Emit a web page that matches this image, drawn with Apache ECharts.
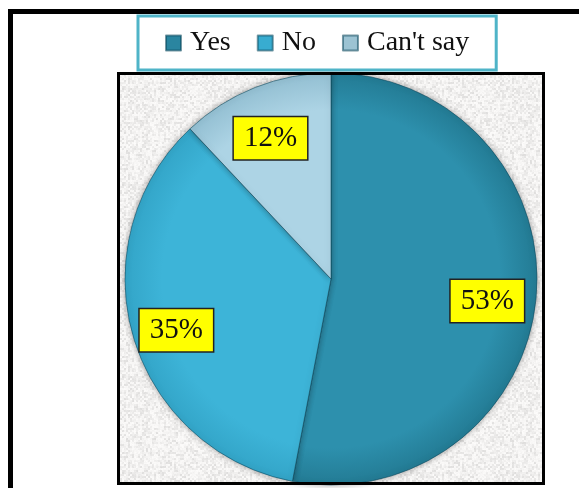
<!DOCTYPE html>
<html>
<head>
<meta charset="utf-8">
<script src="https://cdn.jsdelivr.net/npm/echarts@6/dist/echarts.min.js"></script>
<style>
html,body{margin:0;padding:0;background:#fff;}
#chart{width:579px;height:488px;}
</style>
</head>
<body>
<div id="chart"></div>
<script>
const categories = ['Yes', 'No', "Can't say"];
const values = [53, 35, 12];

const sliceInner = ['#2d90ad', '#3db4d8', '#add4e5'];
const sliceOuter = ['#237b94', '#33a5c8', '#93bfd2'];
const legendColors = ['#2a85a0', '#38acd0', '#9cc3d3'];

// deterministic granite-like texture
function makeTexture() {
  const c = document.createElement('canvas');
  c.width = 96; c.height = 96;
  const ctx = c.getContext('2d');
  const img = ctx.createImageData(96, 96);
  function h(x, y) {
    let n = (x * 374761393 + y * 668265263) | 0;
    n = (n ^ (n >>> 13)) * 1274126177 | 0;
    n = n ^ (n >>> 16);
    return ((n >>> 0) % 1000) / 1000;
  }
  for (let y = 0; y < 96; y++) {
    for (let x = 0; x < 96; x++) {
      const a = h(x >> 1, y >> 1), b = h(x, y);
      let g = 246 - a * a * 26 + b * 6;
      g = Math.max(215, Math.min(252, g));
      const i = (y * 96 + x) * 4;
      img.data[i] = g + 1; img.data[i + 1] = g; img.data[i + 2] = g - 1; img.data[i + 3] = 255;
    }
  }
  ctx.putImageData(img, 0, 0);
  return c;
}

const chart = echarts.init(document.getElementById('chart'), null, {renderer: 'canvas'});
const labelFont = 'Liberation Serif, Times New Roman, serif';

const mainData = categories.map((n, i) => ({
  name: n,
  value: values[i],
  itemStyle: {
    color: {
      type: 'radial', x: 331, y: 279, r: 206, global: true,
      colorStops: [
        {offset: 0, color: sliceInner[i]},
        {offset: 0.82, color: sliceInner[i]},
        {offset: 1, color: sliceOuter[i]}
      ]
    }
  }
}));

const labelData = categories.map((n, i) => ({name: n, value: values[i]}));

chart.setOption({
  animation: false,
  legend: {
    data: categories.map((n, i) => ({name: n, itemStyle: {color: legendColors[i]}})),
    left: 138,
    top: 16,
    padding: [13, 27],
    itemGap: 26,
    itemWidth: 15,
    itemHeight: 15,
    icon: 'rect',
    backgroundColor: '#ffffff',
    borderColor: '#4fb4c8',
    borderWidth: 3,
    borderRadius: 0,
    selectedMode: false,
    textStyle: {
      fontFamily: labelFont,
      fontSize: 28,
      color: '#111',
      padding: [0, 0, 0, 4]
    }
  },
  graphic: [
    {
      type: 'rect', z: -10,
      shape: {x: 118.5, y: 73.5, width: 425, height: 410},
      style: {fill: {image: makeTexture(), repeat: 'repeat'}, stroke: null}
    },
    {
      type: 'rect', z: 100,
      shape: {x: 118.5, y: 73.5, width: 425, height: 410},
      style: {fill: null, stroke: '#000', lineWidth: 3}
    },
    {
      type: 'rect', z: 100,
      shape: {x: 10.5, y: 11.5, width: 620, height: 600},
      style: {fill: null, stroke: '#000', lineWidth: 5}
    }
  ],
  series: [
    {
      type: 'pie',
      center: [331, 279],
      radius: [0, 206],
      startAngle: 90,
      clockwise: true,
      silent: true,
      data: mainData,
      label: {show: false},
      labelLine: {show: false},
      itemStyle: {
        borderColor: 'rgba(10,70,90,0.55)',
        borderWidth: 1,
        shadowBlur: 6,
        shadowColor: 'rgba(0,0,0,0.35)'
      },
      z: 2
    },
    {
      type: 'pie',
      center: [329, 286],
      radius: [104, 208],
      startAngle: 90,
      clockwise: true,
      silent: true,
      legendHoverLink: false,
      data: labelData,
      itemStyle: {color: 'rgba(0,0,0,0)', borderWidth: 0},
      labelLine: {show: false},
      label: {
        show: true,
        position: 'inside',
        formatter: '{c}%',
        fontFamily: labelFont,
        fontSize: 29,
        lineHeight: 29,
        color: '#111',
        backgroundColor: '#ffff00',
        borderColor: '#222',
        borderWidth: 1.5,
        padding: [7, 10, 6, 10]
      },
      z: 5
    }
  ]
});
</script>
</body>
</html>
